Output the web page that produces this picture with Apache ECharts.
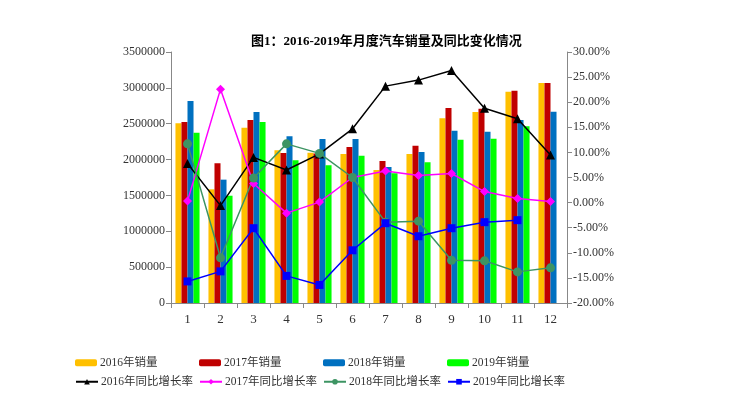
<!DOCTYPE html>
<html><head><meta charset="utf-8">
<script src="https://cdn.jsdelivr.net/npm/echarts@6/dist/echarts.min.js"></script>
<style>html,body{margin:0;padding:0;background:#fff}#c{width:746px;height:419px}</style>
</head><body><div id="c"></div>
<script>
const months = ['1','2','3','4','5','6','7','8','9','10','11','12'];
const sales2016 = [2506000,1585000,2445000,2129000,2096000,2078000,1855000,2078000,2575000,2663000,2947000,3068000];
const sales2017 = [2524000,1948000,2552000,2092000,2085000,2175000,1980000,2194000,2719000,2710000,2961000,3068000];
const sales2018 = [2817000,1720000,2663000,2324000,2287000,2287000,1896000,2106000,2403000,2389000,2552000,2668000];
const sales2019 = [2375000,1496000,2524000,1990000,1920000,2054000,1808000,1962000,2277000,2291000,2464000,null];
const growth2016 = [7.8,-0.6,9.0,6.5,9.7,14.7,23.2,24.4,26.3,18.8,16.7,9.5];
const growth2017 = [0.3,22.6,3.8,-2.1,0.1,5.0,6.3,5.4,5.8,2.2,0.8,0.2];
const growth2018 = [11.7,-11.0,4.9,11.7,9.8,5.0,-3.9,-3.7,-11.5,-11.6,-13.8,-13.0];
const growth2019 = [-15.7,-13.7,-5.1,-14.6,-16.4,-9.5,-4.1,-6.7,-5.1,-3.9,-3.5,null];

const FONT = '"Liberation Serif","Noto Sans CJK SC",serif';
const chart = echarts.init(document.getElementById('c'), null, {renderer:'canvas'});
function leg(name, left, top){
  return {data:[name], left:left, top:top, itemWidth:22, itemHeight:7, itemGap:0,
    textStyle:{fontFamily:FONT, fontSize:11.5, color:'#333', padding:[0,0,0,-2]}, padding:0};
}
const barNames=['2016年销量','2017年销量','2018年销量','2019年销量'];
const lineNames=['2016年同比增长率','2017年同比增长率','2018年同比增长率','2019年同比增长率'];
const lefts=[75,199,323,447];
const legends=[];
barNames.forEach((n,i)=>legends.push(leg(n,lefts[i],357)));
lineNames.forEach((n,i)=>legends.push(leg(n,lefts[i],376)));
const barColors=['#FFC000','#C00000','#0070C0','#00FF00'];
const barData=[sales2016,sales2017,sales2018,sales2019];
const lineColors=['#000000','#FF00FF','#3D9463','#0000FF'];
const lineSymbols=['triangle','diamond','circle','rect'];
const lineSizes=[9,9,9,8];
const lineData=[growth2016,growth2017,growth2018,growth2019];
const series=[];
barNames.forEach((n,i)=>series.push({name:n,type:'bar',data:barData[i],barGap:'0%',barCategoryGap:'27%',
  itemStyle:{color:barColors[i]}}));
lineNames.forEach((n,i)=>series.push({name:n,type:'line',yAxisIndex:1,data:lineData[i],
  symbol:lineSymbols[i],symbolSize:lineSizes[i],lineStyle:{color:lineColors[i],width:1.5},
  itemStyle:{color:lineColors[i]},z:5}));
chart.setOption({
  animation:false,
  title:{text:'图1：2016-2019年月度汽车销量及同比变化情况',left:246,top:30,
    textStyle:{fontFamily:FONT,fontSize:13,fontWeight:'bold',color:'#000'}},
  legend:legends,
  grid:{left:171,right:179,top:52,bottom:116},
  xAxis:{type:'category',data:months,boundaryGap:true,
    axisLine:{lineStyle:{color:'#888'}},axisTick:{show:true,alignWithLabel:false,lineStyle:{color:'#888'}},
    axisLabel:{fontFamily:FONT,fontSize:13,color:'#333',margin:10}},
  yAxis:[
    {type:'value',min:0,max:3500000,interval:500000,splitLine:{show:false},
     axisLine:{show:true,lineStyle:{color:'#888'}},axisTick:{show:true,lineStyle:{color:'#888'}},
     axisLabel:{fontFamily:FONT,fontSize:12,color:'#333',margin:6,formatter:v=>String(v)}},
    {type:'value',min:-20,max:30,interval:5,splitLine:{show:false},
     axisLine:{show:true,lineStyle:{color:'#888'}},axisTick:{show:true,lineStyle:{color:'#888'}},
     axisLabel:{fontFamily:FONT,fontSize:12,color:'#333',margin:6,formatter:v=>v.toFixed(2)+'%'}}
  ],
  series:series
});
</script></body></html>
